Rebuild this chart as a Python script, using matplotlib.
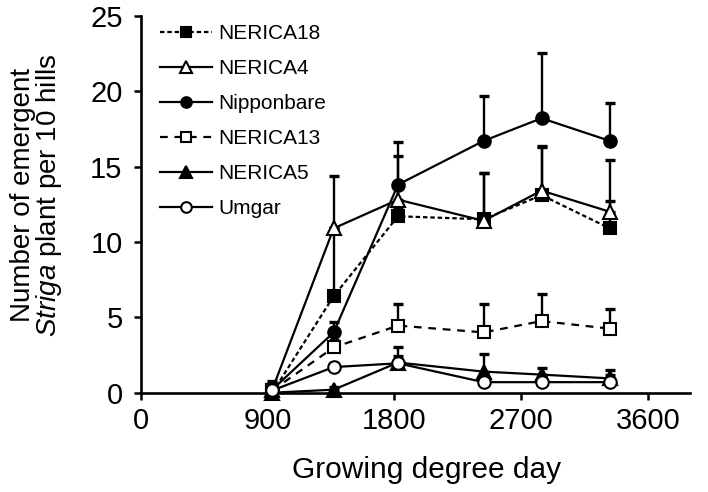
import numpy as np
import matplotlib
matplotlib.use('Agg')
import matplotlib.pyplot as plt

plt.rcParams['font.family'] = ['Liberation Sans', 'DejaVu Sans']
plt.rcParams['mathtext.fontset'] = 'custom'
plt.rcParams['mathtext.it'] = 'Liberation Sans:italic'
plt.rcParams['mathtext.rm'] = 'Liberation Sans'

# growing degree day of each count
gdd = [934, 1370, 1827, 2435, 2846, 3330]

# mean emergent Striga per 10 hills, and upper error
nerica18 = [0.0, 6.4, 11.7, 11.5, 13.1, 10.9]
nerica18_err = [0.3, 4.5, 0.6, 3.1, 3.2, 1.8]
nerica4 = [0.2, 10.9, 12.8, 11.4, 13.4, 12.0]
nerica4_err = [0.4, 3.5, 2.9, 3.2, 2.95, 3.4]
nipponbare = [0.2, 4.0, 13.8, 16.7, 18.2, 16.7]
nipponbare_err = [0.6, 0.7, 2.8, 3.0, 4.3, 2.5]
nerica13 = [0.15, 3.0, 4.45, 4.0, 4.75, 4.25]
nerica13_err = [0.5, 0.5, 1.45, 1.85, 1.8, 1.3]
nerica5 = [0.0, 0.2, 2.0, 1.4, 1.2, 0.95]
nerica5_err = [0.2, 0.2, 1.05, 1.2, 0.47, 0.55]
umgar = [0.15, 1.7, 1.95, 0.7, 0.7, 0.7]
umgar_err = [0.3, 0.3, 0.5, 0.5, 0.5, 0.5]

series = [
    ('NERICA18', nerica18, nerica18_err, 's', 'black', (0, (2.0, 1.3))),
    ('NERICA4', nerica4, nerica4_err, '^', 'white', '-'),
    ('Nipponbare', nipponbare, nipponbare_err, 'o', 'black', '-'),
    ('NERICA13', nerica13, nerica13_err, 's', 'white', (0, (3.5, 3))),
    ('NERICA5', nerica5, nerica5_err, '^', 'black', '-'),
    ('Umgar', umgar, umgar_err, 'o', 'white', '-'),
]
msize = {'s': 8.4, 'o': 9.0, '^': 9.4}

fig = plt.figure(figsize=(7.08, 4.92), dpi=100)
ax = fig.add_axes([0.1987, 0.2018, 0.7759, 0.7663])

for name, y, err, mk, face, ls in series:
    ax.errorbar(gdd, y, yerr=[np.zeros(len(err)), err], fmt='none',
                ecolor='black', elinewidth=1.7, capsize=3.5, capthick=2.4,
                zorder=2, clip_on=False)
for name, y, err, mk, face, ls in series:
    ax.plot(gdd, y, color='black', linestyle=ls, linewidth=1.6, marker=mk,
            markersize=msize[mk], markerfacecolor=face,
            markeredgecolor='black', markeredgewidth=1.5, label=name,
            zorder=3, clip_on=False)

ax.set_xlim(0, 3900)
ax.set_ylim(0, 25)
ax.set_xticks([0, 900, 1800, 2700, 3600])
ax.set_yticks([0, 5, 10, 15, 20, 25])
ax.tick_params(axis='both', labelsize=21, width=1.8, length=5, direction='out')
ax.tick_params(axis='y', pad=8)
ax.tick_params(axis='x', pad=5)
for side in ['top', 'right']:
    ax.spines[side].set_visible(False)
for side in ['left', 'bottom']:
    ax.spines[side].set_linewidth(1.9)

ax.set_xlabel('Growing degree day', fontsize=21.5)
ax.xaxis.set_label_coords(0.521, -0.168)
ax.set_ylabel('Number of emergent\n$\\it{Striga}$ plant per 10 hills',
              fontsize=20, linespacing=0.9)
ax.yaxis.set_label_coords(-0.14, 0.524)

leg = ax.legend(loc='upper left', bbox_to_anchor=(0.02, 1.0), frameon=False,
                fontsize=15, handlelength=2.5, handletextpad=0.32,
                labelspacing=0.77, numpoints=1, borderaxespad=0,
                markerscale=0.85)

fig.savefig('out.png', dpi=100)
